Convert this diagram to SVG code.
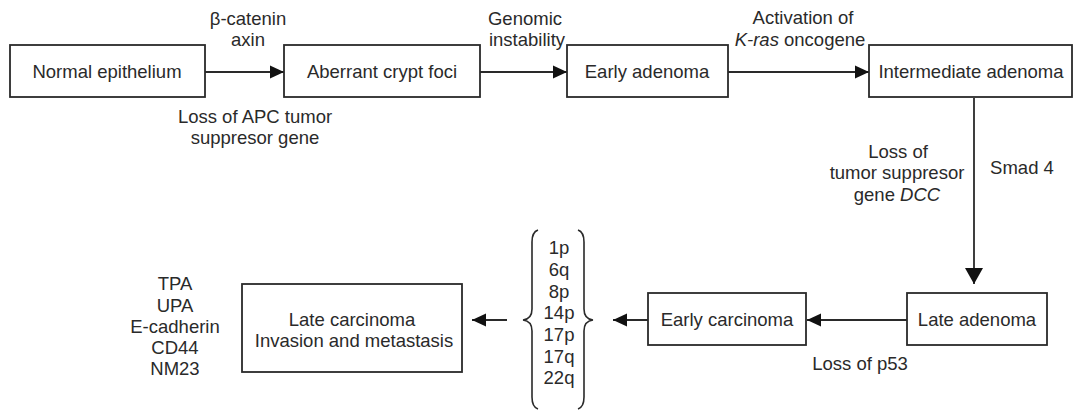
<svg xmlns="http://www.w3.org/2000/svg" width="1077" height="410" viewBox="0 0 1077 410">
<style>
text{font-family:"Liberation Sans",Arial,sans-serif;font-size:18.5px;fill:#2a2a2a;text-anchor:middle}
.box{fill:#fff;stroke:#2a2a2a;stroke-width:1.8}
.ln{fill:none;stroke:#2a2a2a;stroke-width:1.8}
.br{fill:none;stroke:#2a2a2a;stroke-width:1.6}
</style>
<defs>
<marker id="arr" markerUnits="userSpaceOnUse" markerWidth="15" markerHeight="14" refX="14" refY="7" orient="auto">
<path d="M0,0.5 L14,7 L0,13.5 z" fill="#111"/>
</marker>
<marker id="arrL" markerUnits="userSpaceOnUse" markerWidth="17" markerHeight="18" refX="16" refY="9" orient="auto">
<path d="M0,0 L16,9 L0,18 z" fill="#111"/>
</marker>
</defs>
<rect width="1077" height="410" fill="#fff"/>
<g id="connectors">
<line class="ln" x1="205" y1="72" x2="284" y2="72" marker-end="url(#arr)"/>
<line class="ln" x1="480" y1="72" x2="567" y2="72" marker-end="url(#arr)"/>
<line class="ln" x1="728" y1="72" x2="869" y2="72" marker-end="url(#arr)"/>
<line class="ln" x1="974" y1="98" x2="974" y2="284" marker-end="url(#arrL)"/>
<line class="ln" x1="907" y1="320" x2="807" y2="320" marker-end="url(#arr)"/>
<line class="ln" x1="648" y1="320" x2="613" y2="320" marker-end="url(#arr)"/>
<line class="ln" x1="507" y1="320" x2="472" y2="320" marker-end="url(#arr)"/>
</g>
<g id="labels">
<text x="248" y="25">β-catenin</text>
<text x="248" y="46">axin</text>
<text x="255" y="123">Loss of APC tumor</text>
<text x="255" y="144">suppresor gene</text>
<text x="525" y="25">Genomic</text>
<text x="527" y="46">instability</text>
<text x="803" y="24">Activation of</text>
<text x="800" y="46"><tspan font-style="italic">K-ras</tspan> oncogene</text>
<text x="898" y="158">Loss of</text>
<text x="897" y="179">tumor suppresor</text>
<text x="897" y="201">gene <tspan font-style="italic">DCC</tspan></text>
<text x="1022" y="174">Smad 4</text>
<text x="860" y="370">Loss of p53</text>
</g>
<g id="n-normal">
<rect class="box" x="10" y="45" width="195" height="52"/>
<text x="107" y="78">Normal epithelium</text>
</g>
<g id="n-aberrant">
<rect class="box" x="284" y="45" width="196" height="52"/>
<text x="382" y="78">Aberrant crypt foci</text>
</g>
<g id="n-early-adenoma">
<rect class="box" x="567" y="45" width="161" height="52"/>
<text x="647" y="78">Early adenoma</text>
</g>
<g id="n-intermediate">
<rect class="box" x="869" y="45" width="203" height="52"/>
<text x="971" y="78">Intermediate adenoma</text>
</g>
<g id="n-late-adenoma">
<rect class="box" x="907" y="293" width="140" height="52"/>
<text x="977" y="326">Late adenoma</text>
</g>
<g id="n-early-carcinoma">
<rect class="box" x="648" y="293" width="158" height="52"/>
<text x="727" y="326">Early carcinoma</text>
</g>
<g id="n-chromosomes">
<path class="br" d="M538,230 Q532,232 532,242 L532,309 Q532,319 523,320 Q532,321 532,331 L532,397 Q532,407 538,409"/>
<path class="br" d="M578,230 Q584,232 584,242 L584,309 Q584,319 593,320 Q584,321 584,331 L584,397 Q584,407 578,409"/>
<text x="559" y="254">1p</text>
<text x="559" y="276">6q</text>
<text x="559" y="298">8p</text>
<text x="559" y="319">14p</text>
<text x="559" y="341">17p</text>
<text x="559" y="363">17q</text>
<text x="559" y="384">22q</text>
</g>
<g id="n-late-carcinoma">
<rect class="box" x="242" y="284" width="220" height="88"/>
<text x="352" y="326">Late carcinoma</text>
<text x="354" y="347">Invasion and metastasis</text>
</g>
<g id="n-markers">
<text x="175" y="290">TPA</text>
<text x="175" y="312">UPA</text>
<text x="175" y="333">E-cadherin</text>
<text x="175" y="354">CD44</text>
<text x="175" y="375">NM23</text>
</g>
</svg>
